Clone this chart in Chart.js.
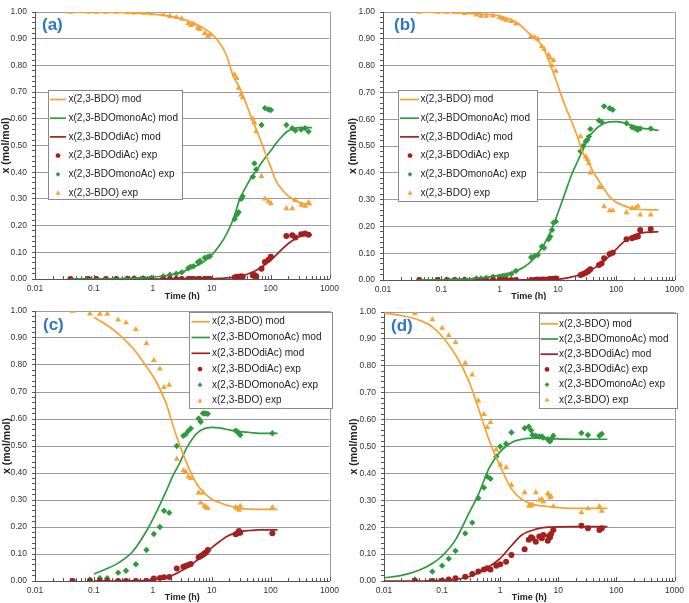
<!DOCTYPE html>
<html><head><meta charset="utf-8">
<script src="https://cdn.jsdelivr.net/npm/chart.js@4.4.0/dist/chart.umd.min.js"></script>
<style>
html,body{margin:0;padding:0;background:#fff;}
#wrap{position:relative;width:689px;height:603px;overflow:hidden;background:#fff;}
canvas{position:absolute;}
</style></head><body>
<div id="wrap">
<canvas id="ca" width="344" height="300" style="left:0;top:0"></canvas>
<canvas id="cb" width="345" height="300" style="left:344px;top:0"></canvas>
<canvas id="cc" width="344" height="303" style="left:0;top:300px"></canvas>
<canvas id="cd" width="345" height="303" style="left:344px;top:300px"></canvas>
</div>
<script>
// ---------- labels ----------
const seriesLabels = ['x(2,3-BDO) mod', 'x(2,3-BDOmonoAc) mod', 'x(2,3-BDOdiAc) mod',
                      'x(2,3-BDOdiAc) exp', 'x(2,3-BDOmonoAc) exp', 'x(2,3-BDO) exp'];
const panelLabels = ['(a)', '(b)', '(c)', '(d)'];
const xMajorValues = [0.01, 0.1, 1, 10, 100, 1000];
const xTickLabels = ['0.01', '0.1', '1', '10', '100', '1000'];
const xTitle = 'Time (h)';
const yTitle = 'x (mol/mol)';

// ---------- panel (a) ----------
const a_expTime = [0.04,0.08,0.11,0.16,0.24,0.37,0.48,0.69,0.95,1.5,1.95,2.5,3.1,4.0,4.4,4.9,5.8,6.3,7.6,8.6,9.3,24.5,26.5,28.6,31.6,33.5,50,53,57,70,80,92,101,185,233,263,330,385,440];
const a_expBDO  = [1.00,1.00,1.00,1.00,1.00,0.998,0.997,0.996,0.994,0.99,0.984,0.98,0.975,0.958,0.95,0.955,0.94,0.935,0.92,0.91,0.915,0.765,0.752,0.715,0.69,0.68,0.60,0.585,0.552,0.385,0.30,0.29,0.283,0.264,0.264,0.295,0.277,0.273,0.287];
const a_expMono = [0,0,0,0,0,0.002,0.003,0.003,0.005,0.01,0.016,0.02,0.025,0.04,0.046,0.048,0.063,0.068,0.08,0.083,0.085,0.225,0.24,0.25,0.30,0.31,0.383,0.433,0.41,0.577,0.64,0.635,0.633,0.577,0.565,0.556,0.56,0.565,0.552];
const a_expDi   = [0,0,0,0,0,0,0,0,0,0,0,0,0,0,0,0,0,0,0,0,0,0.006,0.008,0.008,0.01,0.008,0.013,0.015,0.01,0.038,0.064,0.072,0.083,0.161,0.164,0.155,0.168,0.17,0.166];
const a_modTime = [0.04,0.1,0.2,0.5,1,2,3,5,7,10,14,18,23,30,38,47,57,70,85,100,125,150,200,250,300,400,500];
const a_modBDO  = [1.0,1.0,0.999,0.997,0.992,0.984,0.975,0.958,0.942,0.918,0.88,0.835,0.762,0.715,0.66,0.605,0.56,0.51,0.46,0.42,0.365,0.34,0.31,0.296,0.288,0.28,0.278];
const a_modMono = [0,0.001,0.001,0.003,0.007,0.015,0.025,0.045,0.062,0.09,0.13,0.17,0.222,0.30,0.345,0.38,0.405,0.435,0.46,0.48,0.509,0.53,0.555,0.563,0.567,0.567,0.567];
const a_modDi   = [0,0,0,0,0,0,0,0,0,0.001,0.002,0.004,0.006,0.01,0.016,0.024,0.033,0.045,0.058,0.07,0.09,0.108,0.133,0.148,0.157,0.164,0.166];

// ---------- panel (b) ----------
const b_expTime = [0.042,0.086,0.125,0.17,0.25,0.40,0.48,0.59,0.77,1.0,1.13,1.3,1.58,1.9,3.47,4.0,4.5,5.3,5.8,6.9,7.4,7.9,8.4,9.2,24.5,27,30,32,34,36,50.6,56,62,77,87,150,187,213,235,258,390];
const b_expBDO  = [1,1,1,1,0.995,0.99,0.985,0.985,0.986,0.98,0.975,0.97,0.965,0.956,0.909,0.905,0.90,0.872,0.862,0.84,0.828,0.80,0.82,0.78,0.535,0.498,0.46,0.45,0.436,0.40,0.346,0.346,0.274,0.259,0.259,0.252,0.268,0.268,0.276,0.243,0.243];
const b_expMono = [0,0,0,0,0.002,0.006,0.006,0.008,0.012,0.012,0.015,0.017,0.022,0.034,0.085,0.09,0.093,0.125,0.12,0.152,0.162,0.187,0.214,0.218,0.48,0.50,0.517,0.523,0.535,0.563,0.595,0.59,0.648,0.641,0.635,0.585,0.57,0.565,0.56,0.565,0.565];
const b_expDi   = [0,0,0,0,0,0,0,0,0,0,0,0,0,0,0,0,0.002,0.002,0.002,0.003,0.004,0.004,0.005,0.006,0.019,0.022,0.027,0.031,0.035,0.04,0.056,0.062,0.081,0.097,0.102,0.152,0.156,0.16,0.162,0.187,0.19];
const b_modTime = [0.04,0.1,0.2,0.5,1,2,3.2,5.5,7.5,10,13,17.7,22,26,32,44,60,77,100,126,165,213,277,400,530];
const b_modBDO  = [1.0,0.999,0.997,0.992,0.985,0.96,0.92,0.87,0.80,0.725,0.655,0.585,0.53,0.48,0.445,0.39,0.345,0.31,0.29,0.28,0.27,0.265,0.263,0.262,0.262];
const b_modMono = [0,0.001,0.003,0.008,0.018,0.035,0.062,0.125,0.18,0.25,0.32,0.40,0.445,0.48,0.525,0.562,0.583,0.59,0.591,0.588,0.58,0.573,0.567,0.562,0.558];
const b_modDi   = [0,0,0,0,0,0,0.001,0.001,0.002,0.003,0.006,0.012,0.017,0.021,0.03,0.047,0.068,0.09,0.115,0.137,0.158,0.17,0.176,0.179,0.18];

// ---------- panel (c) ----------
const c_expTime = [0.0435,0.0855,0.126,0.168,0.258,0.35,0.515,0.78,1.04,1.32,1.55,1.9,2.55,3.3,3.6,4.0,4.4,6.0,6.5,7.1,7.5,8.0,8.6,25.5,27.3,29,30.5,107];
const c_expBDO  = [1.0,0.99,0.989,0.989,0.967,0.957,0.932,0.88,0.817,0.786,0.717,0.726,0.452,0.409,0.405,0.386,0.38,0.327,0.29,0.327,0.278,0.273,0.269,0.273,0.269,0.263,0.278,0.273];
const c_expMono = [0,0.006,0.01,0.01,0.031,0.038,0.062,0.115,0.174,0.20,0.26,0.253,0.50,0.538,0.543,0.556,0.565,0.602,0.59,0.621,0.621,0.62,0.619,0.557,0.553,0.547,0.541,0.547];
const c_expDi   = [0,0,0,0,0,0,0,0,0.009,0.011,0.014,0.015,0.046,0.053,0.056,0.059,0.063,0.088,0.093,0.097,0.102,0.106,0.115,0.173,0.177,0.185,0.179,0.177];
const c_modTime = [0.1,0.165,0.275,0.46,0.78,1.15,1.7,2.2,2.9,3.7,4.8,6.2,8,10.5,14,17.7,23,30,45,63,90,131];
const c_modBDO  = [0.977,0.948,0.911,0.862,0.794,0.738,0.655,0.575,0.50,0.44,0.385,0.345,0.32,0.30,0.29,0.281,0.275,0.269,0.266,0.265,0.265,0.265];
const c_modMono = [0.026,0.045,0.07,0.11,0.185,0.255,0.335,0.39,0.44,0.49,0.53,0.555,0.566,0.569,0.566,0.562,0.557,0.553,0.55,0.547,0.547,0.547];
const c_modDi   = [0,0,0,0.001,0.002,0.006,0.014,0.022,0.035,0.048,0.065,0.085,0.105,0.127,0.148,0.164,0.175,0.183,0.187,0.189,0.189,0.189];

// ---------- panel (d) ----------
const d_expTime = [0.034,0.068,0.10,0.13,0.17,0.25,0.33,0.42,0.525,0.60,0.68,0.855,1.0,1.26,1.56,2.63,3.1,3.4,3.6,4.1,4.7,5.2,5.5,6.6,6.9,7.2,7.5,8.2,25,32.4,51,56];
const d_expBDO  = [0.994,0.972,0.94,0.913,0.887,0.81,0.767,0.67,0.62,0.571,0.59,0.488,0.432,0.422,0.357,0.329,0.279,0.28,0.283,0.329,0.301,0.304,0.295,0.326,0.32,0.31,0.314,0.277,0.254,0.269,0.277,0.26];
const d_expMono = [0.006,0.035,0.057,0.083,0.112,0.177,0.217,0.308,0.347,0.388,0.38,0.463,0.50,0.51,0.552,0.568,0.574,0.56,0.543,0.54,0.537,0.537,0.533,0.527,0.522,0.519,0.527,0.54,0.55,0.543,0.54,0.547];
const d_expDi   = [0,0,0.001,0.006,0.01,0.016,0.026,0.035,0.043,0.047,0.043,0.057,0.062,0.072,0.097,0.118,0.153,0.163,0.159,0.146,0.165,0.159,0.171,0.15,0.167,0.163,0.175,0.19,0.205,0.196,0.19,0.196];
const d_modTime = [0.01,0.021,0.041,0.069,0.1,0.17,0.29,0.43,0.64,1.0,1.6,2.35,4,6.7,19,70];
const d_modBDO  = [0.996,0.986,0.969,0.944,0.909,0.841,0.742,0.636,0.525,0.426,0.339,0.304,0.283,0.277,0.27,0.27];
const d_modMono = [0.012,0.022,0.041,0.066,0.093,0.153,0.252,0.326,0.419,0.481,0.516,0.527,0.531,0.529,0.527,0.527];
const d_modDi   = [0,0,0,0.001,0.002,0.006,0.016,0.031,0.053,0.084,0.134,0.171,0.192,0.20,0.202,0.202];

// ---------- styling ----------
const FONT = "'Liberation Sans', Arial, Helvetica, sans-serif";
const C_ORANGE = '#f6a233';
const C_GREEN = '#2f9a3d';
const C_RED = '#a3201e';
Chart.defaults.font.family = FONT;
Chart.defaults.color = '#333';

const zip = (xs, ys) => xs.map((x, i) => ({ x: x, y: ys[i] }));

function isMajorY(v) { return Math.abs(v * 10 - Math.round(v * 10)) < 1e-6; }
function isMajorX(v) { return xMajorValues.some(m => Math.abs(v / m - 1) < 1e-6); }

function drawMarker(ctx, style, x, y, r, color) {
  ctx.fillStyle = color;
  ctx.beginPath();
  if (style === 'circle') {
    ctx.arc(x, y, r, 0, Math.PI * 2);
  } else if (style === 'rectRot') {
    ctx.moveTo(x, y - r); ctx.lineTo(x + r, y); ctx.lineTo(x, y + r); ctx.lineTo(x - r, y); ctx.closePath();
  } else {
    ctx.moveTo(x, y - r * 1.1); ctx.lineTo(x + r, y + r * 0.75); ctx.lineTo(x - r, y + r * 0.75); ctx.closePath();
  }
  ctx.fill();
}

const decor = {
  id: 'decor',
  beforeDatasetsDraw(chart, args, o) {
    const ctx = chart.ctx, ca = chart.chartArea;
    ctx.save();
    ctx.strokeStyle = '#9a9a9a'; ctx.lineWidth = 1;
    const rx = Math.round(ca.right) + 0.5;
    ctx.beginPath(); ctx.moveTo(rx, ca.top); ctx.lineTo(rx, ca.bottom); ctx.stroke();
    const xs = chart.scales.x;
    ctx.strokeStyle = '#555';
    xs.ticks.forEach(t => {
      const px = Math.round(xs.getPixelForValue(t.value)) + 0.5;
      const len = isMajorX(t.value) ? 4 : 3;
      ctx.beginPath(); ctx.moveTo(px, ca.bottom); ctx.lineTo(px, ca.bottom - len); ctx.stroke();
    });
    ctx.restore();
  },
  afterDatasetsDraw(chart, args, o) {
    const ctx = chart.ctx;
    const L = o.legend;
    ctx.save();
    ctx.fillStyle = '#fff';
    ctx.fillRect(L.x, L.y, L.w, L.h);
    ctx.strokeStyle = '#8a8a8a'; ctx.lineWidth = 1;
    ctx.strokeRect(L.x + 0.5, L.y + 0.5, L.w, L.h);
    ctx.font = L.fs + 'px ' + FONT;
    ctx.textBaseline = 'middle';
    chart.data.datasets.forEach((ds, i) => {
      const cy = L.rowY + i * L.step;
      if (ds.showLine === false) {
        drawMarker(ctx, ds.pointStyle, L.mx, cy, 2.4, ds.backgroundColor);
      } else {
        ctx.strokeStyle = ds.borderColor; ctx.lineWidth = ds.borderWidth;
        ctx.beginPath(); ctx.moveTo(L.lx0, cy); ctx.lineTo(L.lx1, cy); ctx.stroke();
      }
      ctx.fillStyle = '#222';
      ctx.fillText(ds.label, L.tx, cy);
    });
    ctx.font = 'bold 17px ' + FONT;
    ctx.fillStyle = '#2e78bd';
    ctx.textBaseline = 'middle';
    ctx.fillText(o.label, o.lx, o.ly);
    ctx.restore();
  }
};
Chart.register(decor);

function makePanel(id, p) {
  const modStyle = (label, t, v, color) => ({
    label: label, data: zip(t, v), borderColor: color, backgroundColor: color,
    borderWidth: 1.7, pointRadius: 0, showLine: true, cubicInterpolationMode: 'monotone', fill: false
  });
  const expStyle = (label, t, v, color, ps, r) => ({
    label: label, data: zip(t, v), borderColor: color, backgroundColor: color,
    borderWidth: 0, pointRadius: r, pointStyle: ps, showLine: false
  });
  const datasets = [
    modStyle(seriesLabels[0], p.modTime, p.modBDO, C_ORANGE),
    modStyle(seriesLabels[1], p.modTime, p.modMono, C_GREEN),
    modStyle(seriesLabels[2], p.modTime, p.modDi, C_RED),
    expStyle(seriesLabels[3], p.expTime, p.expDi, C_RED, 'circle', 3),
    expStyle(seriesLabels[4], p.expTime, p.expMono, C_GREEN, 'rectRot', 3.2),
    expStyle(seriesLabels[5], p.expTime, p.expBDO, C_ORANGE, 'triangle', 3.4)
  ];
  const g = p.geom;
  return new Chart(document.getElementById(id), {
    type: 'line',
    data: { datasets: datasets },
    options: {
      responsive: false, animation: false, events: [],
      layout: { padding: { left: 0, top: g.T, right: g.W - g.R, bottom: 0 } },
      plugins: {
        legend: { display: false }, tooltip: { enabled: false },
        decor: { label: p.label, lx: g.lx, ly: g.ly, legend: g.legend }
      },
      scales: {
        x: {
          type: 'logarithmic', min: 0.01, max: 1000,
          afterBuildTicks: (s) => {
            const arr = [];
            for (let e = -2; e <= 3; e++) {
              for (let m = 1; m <= 9; m++) {
                const v = m * Math.pow(10, e);
                if (v <= 1000 * 1.000001) arr.push({ value: v });
              }
            }
            s.ticks = arr;
          },
          afterFit: (s) => { s.height = g.H - g.B; },
          grid: { drawOnChartArea: false, drawTicks: false },
          border: { display: true, color: '#555', width: 1 },
          ticks: {
            autoSkip: false, maxRotation: 0, padding: 5, color: '#333',
            font: { size: 8.5 },
            callback: (v) => {
              const idx = xMajorValues.findIndex(m => Math.abs(v / m - 1) < 1e-6);
              return idx >= 0 ? xTickLabels[idx] : '';
            }
          },
          title: { display: true, text: xTitle, color: '#222', font: { size: 9, weight: 'bold' }, padding: { top: 0, bottom: g.xtPad } }
        },
        y: {
          type: 'linear', min: 0, max: 1,
          afterBuildTicks: (s) => {
            const arr = [];
            for (let i = 0; i <= 50; i++) arr.push({ value: Math.round(i * 2) / 100 });
            s.ticks = arr;
          },
          afterFit: (s) => { s.width = g.L; },
          grid: {
            drawTicks: true, tickLength: 3,
            color: (c) => (c.tick && isMajorY(c.tick.value)) ? '#9b9b9b' : 'rgba(0,0,0,0)',
            tickColor: '#555', lineWidth: 1
          },
          border: { display: true, color: '#555', width: 1 },
          ticks: {
            autoSkip: false, padding: 5, color: '#333', font: { size: 8.5 },
            callback: (v) => isMajorY(v) ? Number(v).toFixed(2) : ''
          },
          title: { display: true, text: yTitle, color: '#222', font: { size: 10.5, weight: 'bold' }, padding: { top: g.ytPad, bottom: 0 } }
        }
      }
    }
  });
}

makePanel('ca', {
  label: panelLabels[0],
  expTime: a_expTime, expBDO: a_expBDO, expMono: a_expMono, expDi: a_expDi,
  modTime: a_modTime, modBDO: a_modBDO, modMono: a_modMono, modDi: a_modDi,
  geom: { W: 344, H: 300, L: 35, T: 12, R: 330, B: 279, xtPad: -2, ytPad: 0, lx: 42, ly: 25,
    legend: { x: 48, y: 90, w: 134, h: 109, rowY: 99.5, step: 18.7, lx0: 50, lx1: 66, mx: 58, tx: 68.5, fs: 10 } }
});
makePanel('cb', {
  label: panelLabels[1],
  expTime: b_expTime, expBDO: b_expBDO, expMono: b_expMono, expDi: b_expDi,
  modTime: b_modTime, modBDO: b_modBDO, modMono: b_modMono, modDi: b_modDi,
  geom: { W: 345, H: 300, L: 39, T: 12, R: 333, B: 280, xtPad: -2, ytPad: 3, lx: 50, ly: 25,
    legend: { x: 54, y: 90, w: 139, h: 111, rowY: 99.5, step: 18.7, lx0: 56, lx1: 75, mx: 66, tx: 76.5, fs: 10 } }
});
makePanel('cc', {
  label: panelLabels[2],
  expTime: c_expTime, expBDO: c_expBDO, expMono: c_expMono, expDi: c_expDi,
  modTime: c_modTime, modBDO: c_modBDO, modMono: c_modMono, modDi: c_modDi,
  geom: { W: 344, H: 303, L: 35, T: 11, R: 331, B: 281, xtPad: 0, ytPad: 1, lx: 43, ly: 25,
    legend: { x: 189, y: 12, w: 143, h: 96, rowY: 21.7, step: 15.8, lx0: 191.5, lx1: 210, mx: 200, tx: 212, fs: 10 } }
});
makePanel('cd', {
  label: panelLabels[3],
  expTime: d_expTime, expBDO: d_expBDO, expMono: d_expMono, expDi: d_expDi,
  modTime: d_modTime, modBDO: d_modBDO, modMono: d_modMono, modDi: d_modDi,
  geom: { W: 345, H: 303, L: 40, T: 12, R: 333, B: 281, xtPad: 0, ytPad: 4, lx: 47, ly: 26.5,
    legend: { x: 195, y: 13, w: 138, h: 95, rowY: 23.8, step: 15.2, lx0: 196.5, lx1: 214, mx: 203, tx: 215, fs: 10 } }
});
</script>
</body></html>
